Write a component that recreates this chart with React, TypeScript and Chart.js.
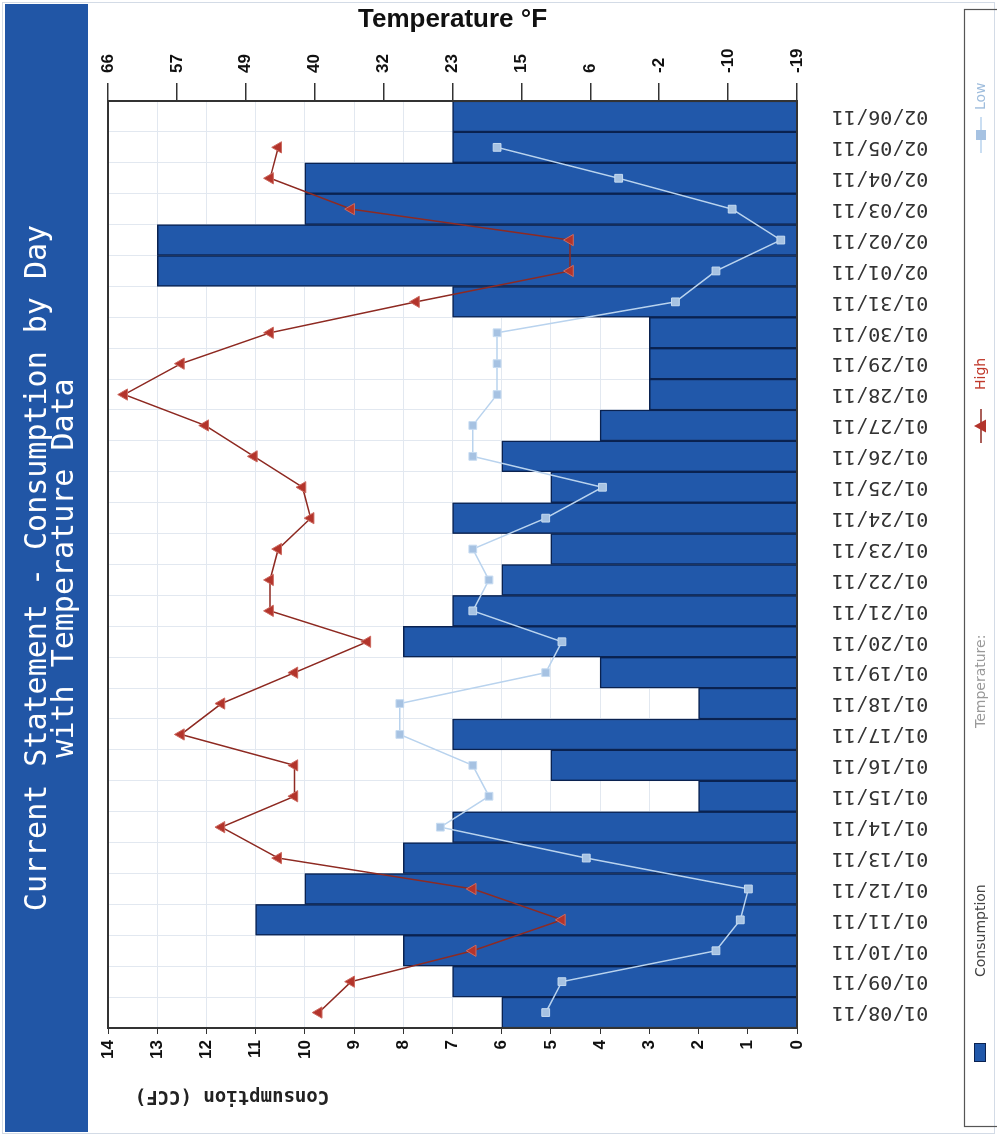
import React, { useEffect, useRef } from 'react';
import { Chart, registerables } from 'chart.js';

Chart.register(...registerables);

// Canvas drawn in the chart's own orientation, then turned a quarter turn (as in the reference picture)
const W = 1136;
const H = 997;

const titleLines = ['Current Statement - Consumption by Day', 'with Temperature Data'];
const consumptionTitle = 'Consumption (CCF)';
const temperatureTitle = 'Temperature °F';
const legendLabels = ['Consumption', 'Temperature:', 'High', 'Low'];

const dates = [
  '01/08/11', '01/09/11', '01/10/11', '01/11/11', '01/12/11', '01/13/11', '01/14/11', '01/15/11',
  '01/16/11', '01/17/11', '01/18/11', '01/19/11', '01/20/11', '01/21/11', '01/22/11', '01/23/11',
  '01/24/11', '01/25/11', '01/26/11', '01/27/11', '01/28/11', '01/29/11', '01/30/11', '01/31/11',
  '02/01/11', '02/02/11', '02/03/11', '02/04/11', '02/05/11', '02/06/11',
];

const consumption = [6, 7, 8, 11, 10, 8, 7, 2, 5, 7, 2, 4, 8, 7, 6, 5, 7, 5, 6, 4, 3, 3, 3, 7, 13, 13, 10, 10, 7, 7];

const highTemp = [40, 36, 21, 10, 21, 45, 52, 43, 43, 57, 52, 43, 34, 46, 46, 45, 41, 42, 48, 54, 64, 57, 46, 28, 9, 9, 36, 46, 45, null];

const lowTemp = [12, 10, -9, -12, -13, 7, 25, 19, 21, 30, 30, 12, 10, 21, 19, 21, 12, 5, 21, 21, 18, 18, 18, -4, -9, -17, -11, 3, 18, null];

const consumptionTicks = [0, 1, 2, 3, 4, 5, 6, 7, 8, 9, 10, 11, 12, 13, 14];
const temperatureTicks = [-19, -10.5, -2, 6.5, 15, 23.5, 32, 40.5, 49, 57.5, 66];

const BAR_FILL = '#2158aa';
const BAR_EDGE = '#0a2250';
const HIGH_LINE = '#8e2a22';
const HIGH_POINT = '#b3342b';
const LOW_LINE = '#b9d3ee';
const LOW_POINT = '#a6c2e2';

const decorPlugin = {
  id: 'decor',
  beforeDraw(chart: any) {
    const { ctx } = chart;
    ctx.save();
    ctx.fillStyle = '#ffffff';
    ctx.fillRect(0, 0, W, H);
    // outer light frame
    ctx.strokeStyle = '#d3dbe6';
    ctx.lineWidth = 1;
    ctx.strokeRect(2.5, 2.5, W - 5, H - 5);
    // title band
    ctx.fillStyle = '#2156a6';
    ctx.fillRect(4, 5, W - 8, 83);
    ctx.restore();
  },
  afterDraw(chart: any) {
    const { ctx, chartArea: a } = chart;
    ctx.save();
    // plot frame
    ctx.strokeStyle = '#333333';
    ctx.lineWidth = 2;
    ctx.strokeRect(a.left, a.top, a.right - a.left, a.bottom - a.top);

    // consumption axis title
    ctx.save();
    ctx.translate(40, a.top + 124);
    ctx.rotate(-Math.PI / 2);
    ctx.font = 'bold 19px "DejaVu Sans Mono", monospace';
    ctx.fillStyle = '#222222';
    ctx.textAlign = 'center';
    ctx.textBaseline = 'middle';
    ctx.fillText(consumptionTitle, 0, 0);
    ctx.restore();

    // legend box
    ctx.strokeStyle = '#555555';
    ctx.lineWidth = 1.2;
    ctx.strokeRect(9.5, 964.5, W - 19, 60);

    const ly = 981;
    ctx.font = '14px "DejaVu Sans", sans-serif';
    ctx.textBaseline = 'middle';
    ctx.textAlign = 'left';

    // Consumption
    ctx.fillStyle = BAR_FILL;
    ctx.fillRect(74, ly - 7, 19, 12);
    ctx.strokeStyle = BAR_EDGE;
    ctx.lineWidth = 1;
    ctx.strokeRect(74.5, ly - 6.5, 18, 11);
    ctx.fillStyle = '#444444';
    ctx.fillText(legendLabels[0], 159, ly);

    // Temperature:
    ctx.fillStyle = '#999999';
    ctx.fillText(legendLabels[1], 408, ly);

    // High
    ctx.strokeStyle = HIGH_LINE;
    ctx.lineWidth = 1.5;
    ctx.beginPath();
    ctx.moveTo(693, ly);
    ctx.lineTo(727, ly);
    ctx.stroke();
    ctx.fillStyle = HIGH_POINT;
    ctx.beginPath();
    ctx.moveTo(710, ly - 7);
    ctx.lineTo(716.5, ly + 5);
    ctx.lineTo(703.5, ly + 5);
    ctx.closePath();
    ctx.fill();
    ctx.fillStyle = '#c0392b';
    ctx.fillText(legendLabels[2], 746, ly);

    // Low
    ctx.strokeStyle = LOW_LINE;
    ctx.lineWidth = 1.5;
    ctx.beginPath();
    ctx.moveTo(983, ly);
    ctx.lineTo(1019, ly);
    ctx.stroke();
    ctx.fillStyle = LOW_POINT;
    ctx.fillRect(996, ly - 5, 10, 10);
    ctx.fillStyle = '#9fbddd';
    ctx.fillText(legendLabels[3], 1026, ly);

    ctx.restore();
  },
};

export default function App() {
  const canvasRef = useRef<HTMLCanvasElement | null>(null);

  useEffect(() => {
    if (!canvasRef.current) return;
    const chart = new Chart(canvasRef.current, {
      data: {
        labels: dates,
        datasets: [
          {
            type: 'bar',
            label: legendLabels[0],
            data: consumption,
            yAxisID: 'y',
            backgroundColor: BAR_FILL,
            borderColor: BAR_EDGE,
            borderWidth: 1.5,
            barPercentage: 1,
            categoryPercentage: 1,
            order: 3,
          },
          {
            type: 'line',
            label: legendLabels[3],
            data: lowTemp,
            yAxisID: 'y1',
            borderColor: LOW_LINE,
            borderWidth: 1.5,
            pointStyle: 'rect',
            pointRadius: 5.5,
            pointBackgroundColor: LOW_POINT,
            pointBorderColor: '#c6dbf1',
            pointBorderWidth: 1,
            tension: 0,
            order: 2,
          },
          {
            type: 'line',
            label: legendLabels[2],
            data: highTemp,
            yAxisID: 'y1',
            borderColor: HIGH_LINE,
            borderWidth: 1.5,
            pointStyle: 'triangle',
            pointRadius: 6.5,
            pointBackgroundColor: HIGH_POINT,
            pointBorderColor: '#cc6a60',
            pointBorderWidth: 1,
            tension: 0,
            order: 1,
          },
        ] as any,
      },
      options: {
        responsive: false,
        animation: false,
        layout: { padding: { top: 0, left: 0, right: 0, bottom: 33 } },
        plugins: {
          legend: { display: false },
          tooltip: { enabled: false },
          title: {
            display: true,
            text: titleLines,
            color: '#ffffff',
            font: { family: '"DejaVu Sans Mono", monospace', size: 30, weight: 'normal', lineHeight: 0.9 },
            padding: { top: 25, bottom: 29 },
          },
        },
        scales: {
          x: {
            type: 'category',
            offset: true,
            grid: { color: '#e2e8f0', lineWidth: 1, offset: true, drawTicks: false },
            border: { display: true, color: '#333333', width: 2 },
            ticks: {
              autoSkip: false,
              minRotation: 90,
              maxRotation: 90,
              padding: 35,
              color: '#333333',
              font: { family: '"DejaVu Sans Mono", monospace', size: 20 },
            },
            afterFit: (s: any) => { s.height = 964 - 797; },
          },
          y: {
            type: 'linear',
            position: 'left',
            min: 0,
            max: 14,
            afterBuildTicks: (s: any) => { s.ticks = consumptionTicks.map((v) => ({ value: v })); },
            grid: { color: '#e2e8f0', lineWidth: 1, tickLength: 6, tickColor: '#333333' },
            border: { display: true, color: '#333333', width: 2 },
            ticks: {
              color: '#111111',
              padding: 6,
              font: { family: '"Liberation Sans", Arial, sans-serif', size: 17, weight: 'bold' },
            },
            afterFit: (s: any) => { s.width = 108; },
          },
          y1: {
            type: 'linear',
            position: 'right',
            min: -19,
            max: 66,
            afterBuildTicks: (s: any) => { s.ticks = temperatureTicks.map((v) => ({ value: v })); },
            grid: { drawOnChartArea: false, tickLength: 18, tickColor: '#333333', lineWidth: 1.5 },
            border: { display: true, color: '#333333', width: 2 },
            ticks: {
              color: '#111111',
              padding: 10,
              font: { family: '"Liberation Sans", Arial, sans-serif', size: 17, weight: 'bold' },
              callback: (v: any) => String(Math.trunc(Number(v))),
            },
            title: {
              display: true,
              text: temperatureTitle,
              color: '#111111',
              font: { family: '"Liberation Sans", Arial, sans-serif', size: 26, weight: 'bold', lineHeight: 1.0 },
              padding: { top: 7, bottom: 0 },
            },
            afterFit: (s: any) => { s.width = 101; },
          },
        },
      } as any,
      plugins: [decorPlugin],
    });
    return () => chart.destroy();
  }, []);

  return (
    <div style={{ position: 'absolute', left: 0, top: 0, width: 997, height: 1136, overflow: 'hidden', background: '#ffffff' }}>
      <div
        style={{
          position: 'absolute',
          left: 0,
          top: 0,
          width: W,
          height: H,
          transformOrigin: '0 0',
          transform: `translateY(${W}px) rotate(-90deg)`,
        }}
      >
        <canvas ref={canvasRef} width={W} height={H} style={{ display: 'block', width: W, height: H }} />
      </div>
    </div>
  );
}
